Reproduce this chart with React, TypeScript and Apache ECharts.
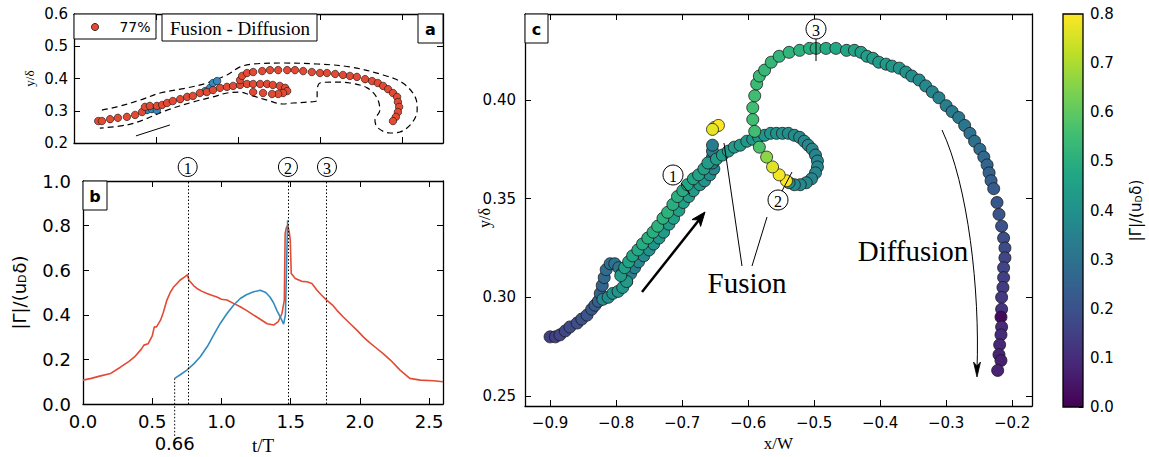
import React, { useEffect, useRef } from "react";
import * as echarts from "echarts";

// ---------- colours ----------
const RED = "#e24a33";
const BLUE = "#348abd";
const viridis = ["#440154", "#482475", "#414487", "#355f8d", "#2a788e", "#21918c", "#22a884", "#44bf70", "#7ad151", "#bddf26", "#fde725"];

// ---------- panel a : trajectory (x/W, y/δ) ----------
const aRedX = [
  -0.941, -0.932, -0.912, -0.893, -0.871, -0.851, -0.834, -0.827, -0.815, -0.798, -0.785, -0.773, -0.759, -0.741, -0.724, -0.71, -0.693, -0.676, -0.661, -0.644, -0.627, -0.612, -0.595,
  -0.595, -0.59, -0.578, -0.563, -0.541, -0.522, -0.502, -0.48, -0.461, -0.441, -0.42, -0.4, -0.383, -0.363, -0.344, -0.327, -0.31, -0.29, -0.273, -0.259, -0.246, -0.234, -0.222, -0.212, -0.21, -0.207, -0.21, -0.215, -0.222,
  -0.578, -0.563, -0.546, -0.529, -0.515, -0.498, -0.485, -0.48, -0.49, -0.502, -0.517, -0.539, -0.563,
];
const aRedY = [
  0.268, 0.268, 0.274, 0.278, 0.281, 0.287, 0.296, 0.312, 0.315, 0.315, 0.318, 0.324, 0.33, 0.336, 0.343, 0.346, 0.355, 0.358, 0.364, 0.371, 0.374, 0.377, 0.38,
  0.395, 0.408, 0.417, 0.42, 0.423, 0.426, 0.426, 0.426, 0.426, 0.423, 0.42, 0.417, 0.417, 0.414, 0.411, 0.408, 0.405, 0.398, 0.392, 0.386, 0.377, 0.367, 0.355, 0.343, 0.327, 0.312, 0.296, 0.281, 0.268,
  0.383, 0.383, 0.383, 0.383, 0.38, 0.377, 0.371, 0.361, 0.355, 0.352, 0.352, 0.355, 0.358,
];
const aBlueX = [-0.822, -0.81, -0.798, -0.68, -0.668, -0.661, -0.651];
const aBlueY = [0.302, 0.305, 0.302, 0.361, 0.371, 0.386, 0.392];
const aContourX = [
  -0.932, -0.895, -0.839, -0.79, -0.724, -0.676, -0.627, -0.595, -0.563, -0.49, -0.407, -0.327, -0.246, -0.198, -0.168, -0.163, -0.176, -0.205, -0.229, -0.259, -0.266, -0.254, -0.261, -0.285, -0.327, -0.368, -0.4, -0.407, -0.407, -0.429, -0.466, -0.49, -0.529, -0.571, -0.595, -0.627, -0.661, -0.71, -0.773, -0.832, -0.871, -0.937,
];
const aContourY = [
  0.302, 0.312, 0.333, 0.355, 0.371, 0.386, 0.411, 0.436, 0.445, 0.448, 0.445, 0.436, 0.411, 0.386, 0.343, 0.302, 0.262, 0.234, 0.231, 0.247, 0.271, 0.302, 0.34, 0.371, 0.386, 0.389, 0.386, 0.358, 0.333, 0.327, 0.324, 0.321, 0.333, 0.349, 0.358, 0.355, 0.343, 0.327, 0.302, 0.271, 0.256, 0.246,
];
const aBarX = [-0.849, -0.766];
const aBarY = [0.222, 0.256];

// ---------- panel b : circulation vs time ----------
const redT = [0, 0.06, 0.12, 0.2, 0.27, 0.33, 0.37, 0.42, 0.44, 0.47, 0.5, 0.515, 0.53, 0.56, 0.58, 0.606, 0.63, 0.655, 0.7, 0.74, 0.755, 0.765, 0.8, 0.823, 0.86, 0.895, 0.93, 0.967, 1.0, 1.04, 1.09, 1.136, 1.18, 1.23, 1.28, 1.33, 1.377, 1.41, 1.437, 1.454, 1.46, 1.468, 1.478, 1.49, 1.497, 1.504, 1.533, 1.58, 1.617, 1.653, 1.69, 1.72, 1.76, 1.8, 1.834, 1.88, 1.93, 1.98, 2.026, 2.07, 2.12, 2.17, 2.22, 2.29, 2.36, 2.436, 2.53, 2.6];
const redV = [0.107, 0.115, 0.125, 0.137, 0.165, 0.19, 0.21, 0.245, 0.264, 0.27, 0.305, 0.346, 0.345, 0.376, 0.41, 0.466, 0.5, 0.525, 0.555, 0.572, 0.58, 0.555, 0.53, 0.518, 0.505, 0.496, 0.488, 0.48, 0.47, 0.466, 0.45, 0.436, 0.42, 0.4, 0.38, 0.36, 0.354, 0.369, 0.406, 0.466, 0.764, 0.79, 0.8, 0.77, 0.734, 0.585, 0.563, 0.55, 0.548, 0.54, 0.51, 0.49, 0.466, 0.445, 0.42, 0.39, 0.36, 0.33, 0.3, 0.275, 0.25, 0.225, 0.197, 0.152, 0.115, 0.107, 0.104, 0.1];
const blueT = [0.662, 0.7, 0.75, 0.8, 0.847, 0.9, 0.943, 0.99, 1.04, 1.09, 1.136, 1.18, 1.232, 1.28, 1.32, 1.35, 1.375, 1.4, 1.425, 1.449, 1.462, 1.478];
const blueV = [0.115, 0.13, 0.152, 0.18, 0.212, 0.26, 0.309, 0.36, 0.406, 0.445, 0.473, 0.49, 0.503, 0.51, 0.5, 0.48, 0.455, 0.42, 0.39, 0.358, 0.4, 0.824];
const markerTimes = [0.756, 1.48, 1.762];
const markerNames = ["1", "2", "3"];
const startTime = 0.662;
const startLineY = [0.115, -0.148];

// ---------- panel c : trajectory coloured by |Γ| ----------
const cBX = [-0.9, -0.892, -0.885, -0.877, -0.87, -0.859, -0.852, -0.844, -0.837, -0.832, -0.827, -0.824, -0.821, -0.818, -0.815, -0.809, -0.802, -0.796, -0.791, -0.784, -0.778, -0.772, -0.766, -0.758, -0.75, -0.743, -0.735, -0.728, -0.72, -0.713, -0.705, -0.698, -0.69, -0.683, -0.673, -0.666, -0.658, -0.652, -0.654, -0.654, -0.654, -0.654, -0.651, -0.645, -0.654];
const cBY = [0.28, 0.28, 0.281, 0.283, 0.285, 0.287, 0.289, 0.291, 0.294, 0.296, 0.298, 0.302, 0.306, 0.31, 0.314, 0.317, 0.317, 0.315, 0.312, 0.308, 0.312, 0.315, 0.318, 0.321, 0.324, 0.327, 0.33, 0.333, 0.337, 0.34, 0.344, 0.348, 0.351, 0.354, 0.357, 0.359, 0.362, 0.365, 0.368, 0.371, 0.374, 0.377, 0.386, 0.387, 0.385];
const cBV = [0.15, 0.15, 0.16, 0.17, 0.18, 0.19, 0.2, 0.21, 0.22, 0.23, 0.24, 0.25, 0.26, 0.27, 0.28, 0.29, 0.3, 0.31, 0.32, 0.33, 0.34, 0.35, 0.37, 0.38, 0.4, 0.41, 0.42, 0.43, 0.44, 0.45, 0.45, 0.45, 0.44, 0.43, 0.42, 0.41, 0.39, 0.37, 0.35, 0.34, 0.33, 0.33, 0.78, 0.8, 0.77];
const cRX = [-0.82, -0.812, -0.805, -0.797, -0.79, -0.784, -0.793, -0.787, -0.781, -0.775, -0.767, -0.76, -0.752, -0.744, -0.737, -0.729, -0.722, -0.714, -0.707, -0.699, -0.692, -0.683, -0.675, -0.667, -0.661, -0.648, -0.639, -0.63, -0.621, -0.612, -0.602, -0.593, -0.584, -0.575, -0.566, -0.557, -0.548, -0.539, -0.53, -0.522, -0.515, -0.509, -0.503, -0.498, -0.495, -0.495, -0.498, -0.504, -0.512, -0.521, -0.53, -0.538];
const cRY = [0.299, 0.3, 0.302, 0.303, 0.305, 0.308, 0.311, 0.315, 0.318, 0.321, 0.324, 0.327, 0.33, 0.333, 0.336, 0.34, 0.343, 0.347, 0.351, 0.354, 0.357, 0.36, 0.362, 0.365, 0.368, 0.37, 0.372, 0.374, 0.376, 0.377, 0.379, 0.38, 0.381, 0.382, 0.383, 0.383, 0.383, 0.383, 0.382, 0.381, 0.379, 0.377, 0.375, 0.372, 0.369, 0.366, 0.363, 0.36, 0.358, 0.357, 0.357, 0.358];
const cRV = [0.38, 0.39, 0.4, 0.41, 0.42, 0.43, 0.44, 0.45, 0.46, 0.47, 0.48, 0.49, 0.5, 0.5, 0.51, 0.51, 0.51, 0.5, 0.5, 0.49, 0.48, 0.47, 0.46, 0.45, 0.44, 0.44, 0.44, 0.43, 0.43, 0.43, 0.42, 0.42, 0.42, 0.41, 0.41, 0.4, 0.4, 0.39, 0.39, 0.38, 0.38, 0.37, 0.37, 0.36, 0.36, 0.36, 0.36, 0.36, 0.37, 0.37, 0.38, 0.38];
const cMX = [-0.542, -0.553, -0.563, -0.572, -0.583, -0.59, -0.593, -0.593, -0.59, -0.587, -0.583, -0.575, -0.565, -0.553, -0.538, -0.522, -0.507, -0.497, -0.482, -0.467, -0.451, -0.439, -0.429, -0.42, -0.411, -0.402, -0.391, -0.382, -0.371, -0.361, -0.352, -0.341, -0.331, -0.321, -0.311, -0.3, -0.291, -0.281, -0.272, -0.264, -0.257, -0.249, -0.243, -0.238, -0.235, -0.232, -0.228, -0.223, -0.22, -0.216, -0.213, -0.211, -0.211, -0.213, -0.213, -0.214, -0.216, -0.216, -0.217, -0.216, -0.217, -0.219, -0.22, -0.217, -0.222];
const cMY = [0.359, 0.362, 0.366, 0.371, 0.376, 0.384, 0.39, 0.396, 0.402, 0.408, 0.412, 0.415, 0.419, 0.422, 0.424, 0.425, 0.426, 0.426, 0.426, 0.426, 0.425, 0.425, 0.424, 0.422, 0.421, 0.419, 0.418, 0.417, 0.416, 0.414, 0.412, 0.41, 0.407, 0.404, 0.401, 0.397, 0.394, 0.391, 0.387, 0.383, 0.379, 0.375, 0.371, 0.367, 0.363, 0.359, 0.355, 0.348, 0.342, 0.336, 0.33, 0.325, 0.32, 0.315, 0.31, 0.305, 0.3, 0.294, 0.29, 0.285, 0.281, 0.276, 0.271, 0.268, 0.263];
const cMV = [0.8, 0.79, 0.76, 0.66, 0.57, 0.55, 0.55, 0.55, 0.55, 0.54, 0.54, 0.53, 0.53, 0.52, 0.52, 0.51, 0.5, 0.5, 0.49, 0.48, 0.47, 0.46, 0.45, 0.45, 0.44, 0.44, 0.43, 0.42, 0.41, 0.4, 0.39, 0.38, 0.37, 0.36, 0.35, 0.34, 0.33, 0.32, 0.31, 0.3, 0.29, 0.28, 0.27, 0.26, 0.25, 0.24, 0.23, 0.22, 0.21, 0.2, 0.19, 0.18, 0.17, 0.16, 0.15, 0.14, 0.13, 0.12, 0.02, 0.1, 0.1, 0.09, 0.08, 0.07, 0.08];
const cXTicks = [-0.9, -0.8, -0.7, -0.6, -0.5, -0.4, -0.3, -0.2];
const cYTicks = [0.25, 0.3, 0.35, 0.4];
const cbTicks = [0, 0.1, 0.2, 0.3, 0.4, 0.5, 0.6, 0.7, 0.8];

// ---------- layout ----------
const GA = { left: 74, top: 14, width: 369, height: 129 };
const GB = { left: 83, top: 181, width: 360, height: 223 };
const GC = { left: 525, top: 14, width: 507, height: 393 };
const GCB = { left: 1063, top: 14, width: 20, height: 393 };
const B_XMAX = 2.6;

const SANS = '"DejaVu Sans", sans-serif';
const SERIF = '"Liberation Serif", "DejaVu Serif", serif';

const zip2 = (xs: number[], ys: number[]) => xs.map((x, i) => [x, ys[i]]);
const zip3 = (xs: number[], ys: number[], vs: number[]) => xs.map((x, i) => [x, ys[i], vs[i]]);
const minus = (s: string) => s.replace("-", "\u2212");

function axis(o: any) {
  const showLabel = o.showLabel !== false;
  const a: any = {
    type: "value",
    gridIndex: o.grid,
    min: o.min,
    max: o.max,
    position: o.position,
    axisLine: { show: true, onZero: false, lineStyle: { color: "#000", width: 1.3 } },
    axisTick: { show: true, inside: true, length: 6, lineStyle: { color: "#000", width: 1 } },
    axisLabel: {
      show: showLabel,
      color: "#000",
      fontFamily: SANS,
      fontSize: o.fontSize || 15,
      margin: o.margin || 8,
      formatter: (v: number) => minus(v.toFixed(o.dec ?? 1)),
    },
    splitLine: { show: false },
  };
  if (o.interval !== undefined) a.interval = o.interval;
  if (o.custom) {
    a.axisTick.customValues = o.custom;
    a.axisLabel.customValues = o.custom;
  }
  if (o.name) {
    a.name = o.name;
    a.nameLocation = "middle";
    a.nameGap = o.nameGap;
    a.nameRotate = o.nameRotate;
    a.nameMoveOverlap = false;
    a.nameTextStyle = o.nameTextStyle;
  }
  return a;
}

function buildOption() {
  const bx = (t: number) => GB.left + (t / B_XMAX) * GB.width;
  const circ = (cx: number, cy: number, label: string, r = 9.5) => [
    { type: "circle", z: 100, shape: { cx, cy, r }, style: { fill: "#fff", stroke: "#000", lineWidth: 1 } },
    { type: "text", z: 101, x: cx, y: cy + 1, style: { text: label, font: `16px ${SERIF}`, fill: "#000", align: "center", verticalAlign: "middle" } },
  ];
  const line = (x1: number, y1: number, x2: number, y2: number, w = 1) => ({
    type: "line", z: 99, shape: { x1, y1, x2, y2 }, style: { stroke: "#000", lineWidth: w },
  });
  const box = (x: number, y: number, w: number, h: number) => ({
    type: "rect", z: 100, shape: { x, y, width: w, height: h }, style: { fill: "#fff", stroke: "#000", lineWidth: 1 },
  });
  const label = (x: number, y: number, text: string, font: string, align = "center") => ({
    type: "text", z: 101, x, y, style: { text, font, fill: "#000", align, verticalAlign: "middle" },
  });

  const graphic: any[] = [
    // panel a legend & label
    box(GA.left, GA.top, 82, 25),
    { type: "circle", z: 101, shape: { cx: 95, cy: 27, r: 3.6 }, style: { fill: RED, stroke: "#000", lineWidth: 0.7 } },
    label(135, 27, "77%", `14px ${SANS}`),
    box(162, GA.top, 155, 27),
    label(240, 28, "Fusion - Diffusion", `19px ${SERIF}`),
    box(418, GA.top, 25, 29),
    label(430.5, 29, "a", `bold 16px ${SANS}`),
    // panel b label & markers
    box(GB.left, GB.top, 24, 29),
    label(95, 196, "b", `bold 16px ${SANS}`),
    ...markerTimes.flatMap((t, i) => circ(bx(t), 167, markerNames[i])),
    label(bx(startTime), 443, "0.66", `18px ${SANS}`),
    // panel c label & annotations
    box(GC.left, GC.top, 23, 29),
    label(536.5, 29, "c", `bold 16px ${SANS}`),
    { type: "text", z: 101, x: 484, y: 218, rotation: Math.PI / 2, style: { text: "y/δ", font: `16px ${SERIF}`, fill: "#000", align: "center", verticalAlign: "middle" } },
    line(681, 183, 690, 194),
    ...circ(673, 175, "1", 10),
    line(782, 191, 792, 172),
    ...circ(778, 200, "2", 10),
    line(816, 39, 816, 61),
    ...circ(816, 29, "3", 10),
    line(724, 143, 742, 266),
    line(767, 217, 752, 266),
    label(747, 283, "Fusion", `29px ${SERIF}`),
    label(913, 251, "Diffusion", `29px ${SERIF}`),
    line(642, 292, 699, 220, 2.5),
    { type: "polygon", z: 100, shape: { points: [[705, 212], [700.6, 226.4], [698.8, 219.9], [692, 219.6]] }, style: { fill: "#000", stroke: "#000", lineWidth: 1 } },
    { type: "bezierCurve", z: 99, shape: { x1: 942, y1: 130, cpx1: 968, cpy1: 185, cpx2: 980, cpy2: 290, x2: 977, y2: 370 }, style: { stroke: "#000", lineWidth: 1, fill: null } },
    { type: "polygon", z: 100, shape: { points: [[977, 377], [973.5, 362], [977, 366], [980.5, 362]] }, style: { fill: "#000", stroke: "#000", lineWidth: 0.8 } },
    // colorbar frame
    { type: "rect", z: 100, shape: { x: GCB.left, y: GCB.top, width: GCB.width, height: GCB.height }, style: { fill: null, stroke: "#000", lineWidth: 1.3 } },
  ];

  const gammaName = "|Γ|/(u{sub|D}δ)";

  return {
    animation: false,
    backgroundColor: "#fff",
    grid: [
      { ...GA, containLabel: false },
      { ...GB, containLabel: false },
      { ...GC, containLabel: false },
      { ...GCB, containLabel: false },
    ],
    xAxis: [
      axis({ grid: 0, min: -1, max: -0.1, interval: 0.2, position: "bottom", showLabel: false }),
      axis({ grid: 0, min: -1, max: -0.1, interval: 0.2, position: "top", showLabel: false }),
      axis({ grid: 1, min: 0, max: B_XMAX, interval: 0.5, position: "bottom", fontSize: 18, margin: 8, name: "t/T", nameGap: 32, nameTextStyle: { fontFamily: SERIF, fontSize: 19, color: "#000" } }),
      axis({ grid: 1, min: 0, max: B_XMAX, interval: 0.5, position: "top", showLabel: false }),
      axis({ grid: 2, min: -0.938, max: -0.17, custom: cXTicks, position: "bottom", fontSize: 15, margin: 9, name: "x/W", nameGap: 29, nameTextStyle: { fontFamily: SERIF, fontSize: 17, color: "#000" } }),
      axis({ grid: 2, min: -0.938, max: -0.17, custom: cXTicks, position: "top", showLabel: false }),
      { type: "category", gridIndex: 3, data: ["cb"], show: false },
    ],
    yAxis: [
      axis({ grid: 0, min: 0.2, max: 0.6, interval: 0.1, position: "left", fontSize: 15, margin: 6, name: "y/δ", nameGap: 38, nameRotate: 90, nameTextStyle: { fontFamily: SERIF, fontSize: 13, color: "#000" } }),
      axis({ grid: 0, min: 0.2, max: 0.6, interval: 0.1, position: "right", showLabel: false }),
      axis({ grid: 1, min: 0, max: 1, interval: 0.2, position: "left", fontSize: 18, margin: 12, name: gammaName, nameGap: 55, nameRotate: 90, nameTextStyle: { fontFamily: SANS, fontSize: 18, color: "#000", rich: { sub: { fontFamily: SANS, fontSize: 11, padding: [7, 1, 0, 0] } } } }),
      axis({ grid: 1, min: 0, max: 1, interval: 0.2, position: "right", showLabel: false }),
      axis({ grid: 2, min: 0.245, max: 0.4434, custom: cYTicks, dec: 2, position: "left", fontSize: 15, margin: 9 }),
      axis({ grid: 2, min: 0.245, max: 0.4434, custom: cYTicks, position: "right", showLabel: false }),
      {
        type: "value", gridIndex: 3, min: 0, max: 0.8, interval: 0.1, position: "right",
        axisLine: { show: false }, axisTick: { show: true, inside: true, length: 4, lineStyle: { color: "#000" } },
        splitLine: { show: false },
        axisLabel: { color: "#000", fontFamily: SANS, fontSize: 15, margin: 7, formatter: (v: number) => v.toFixed(1) },
        name: gammaName, nameLocation: "middle", nameGap: 45, nameRotate: 90,
        nameTextStyle: { fontFamily: SANS, fontSize: 15, color: "#000", rich: { sub: { fontFamily: SANS, fontSize: 9, padding: [6, 1, 0, 0] } } },
      },
    ],
    visualMap: [
      { type: "continuous", show: false, min: 0, max: 0.8, dimension: 2, seriesIndex: [7, 8, 9], inRange: { color: viridis } },
    ],
    series: [
      { type: "line", xAxisIndex: 0, yAxisIndex: 0, data: zip2(aContourX, aContourY), symbol: "none", smooth: 0.35, lineStyle: { color: "#000", width: 1.2, type: [6, 4] }, z: 1 },
      { type: "line", xAxisIndex: 0, yAxisIndex: 0, data: zip2(aBarX, aBarY), symbol: "none", lineStyle: { color: "#000", width: 1 }, z: 1 },
      { type: "scatter", xAxisIndex: 0, yAxisIndex: 0, data: zip2(aRedX, aRedY), symbolSize: 7.5, itemStyle: { color: RED, borderColor: "#111", borderWidth: 0.6, opacity: 1 }, z: 3 },
      { type: "scatter", xAxisIndex: 0, yAxisIndex: 0, data: zip2(aBlueX, aBlueY), symbolSize: 7.5, itemStyle: { color: BLUE, borderColor: "#111", borderWidth: 0.6, opacity: 1 }, z: 2 },
      {
        type: "line", xAxisIndex: 2, yAxisIndex: 2, data: zip2(redT, redV), symbol: "none", lineStyle: { color: RED, width: 1.6 }, z: 3,
        markLine: { silent: true, symbol: "none", label: { show: false }, lineStyle: { type: [1.5, 2], color: "#000", width: 1 }, data: markerTimes.map((t) => ({ xAxis: t })) },
      },
      { type: "line", xAxisIndex: 2, yAxisIndex: 2, data: zip2(blueT, blueV), symbol: "none", lineStyle: { color: BLUE, width: 1.6 }, z: 4 },
      { type: "line", xAxisIndex: 2, yAxisIndex: 2, clip: false, data: startLineY.map((y) => [startTime, y]), symbol: "none", lineStyle: { color: "#000", width: 1, type: [1.5, 2] }, z: 2 },
      { type: "scatter", xAxisIndex: 4, yAxisIndex: 4, data: zip3(cBX, cBY, cBV), symbolSize: 12, itemStyle: { borderColor: "#1a1a1a", borderWidth: 0.8, opacity: 1 }, z: 3 },
      { type: "scatter", xAxisIndex: 4, yAxisIndex: 4, data: zip3(cRX, cRY, cRV), symbolSize: 12, itemStyle: { borderColor: "#1a1a1a", borderWidth: 0.8, opacity: 1 }, z: 4 },
      { type: "scatter", xAxisIndex: 4, yAxisIndex: 4, data: zip3(cMX, cMY, cMV), symbolSize: 12, itemStyle: { borderColor: "#1a1a1a", borderWidth: 0.8, opacity: 1 }, z: 5 },
      {
        type: "bar", xAxisIndex: 6, yAxisIndex: 6, data: [cbTicks[cbTicks.length - 1]], barWidth: "100%", silent: true,
        itemStyle: { color: new echarts.graphic.LinearGradient(0, 1, 0, 0, viridis.map((c, i) => ({ offset: i / (viridis.length - 1), color: c }))) },
      },
    ],
    graphic,
  };
}

export default function App() {
  const ref = useRef<HTMLDivElement>(null);
  useEffect(() => {
    const chart = echarts.init(ref.current!, null, { renderer: "svg" });
    chart.setOption(buildOption() as any);
    return () => chart.dispose();
  }, []);
  return <div ref={ref} style={{ position: "absolute", left: 0, top: 0, width: 1149, height: 457, background: "#fff" }} />;
}
